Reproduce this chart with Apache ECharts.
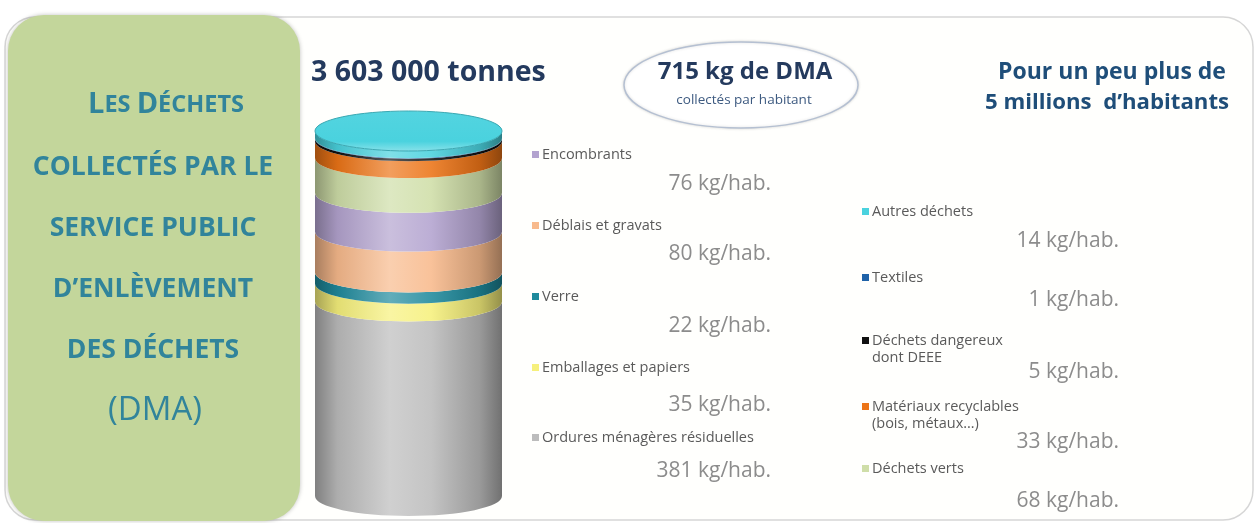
<!DOCTYPE html>
<html><head><meta charset="utf-8">
<script src="https://cdn.jsdelivr.net/npm/echarts@6/dist/echarts.min.js"></script>
<style>html,body{margin:0;padding:0;background:#fff}#c{width:1258px;height:523px}</style>
</head><body><div id="c"></div>
<script>
// ---------- DATA ----------
const categories = [
  'Ordures ménagères résiduelles',
  'Emballages et papiers',
  'Verre',
  'Déblais et gravats',
  'Encombrants',
  'Déchets verts',
  'Matériaux recyclables\n(bois, métaux…)',
  'Déchets dangereux\ndont DEEE',
  'Textiles',
  'Autres déchets'
];
const values = [381, 35, 22, 80, 76, 68, 33, 5, 1, 14];
const unit = ' kg/hab.';
const colors = ['#bcbcbc', '#f6f07c', '#1f8a9c', '#f8ba8c', '#b3a3cf', '#cfdea8', '#ec7417', '#111111', '#1f62a8', '#4ad2de'];
const legendLeftOrder = [4, 3, 2, 1, 0];
const legendRightOrder = [9, 8, 7, 6, 5];
const panelLines = ['COLLECTÉS PAR LE', 'SERVICE PUBLIC', 'D’ENLÈVEMENT', 'DES DÉCHETS'];
const headTotal = '3 603 000 tonnes';
const headPerHab = '715 kg de DMA';
const headPerHabSub = 'collectés par habitant';
const headPop = ['Pour un peu plus de', '5 millions  d’habitants'];

// ---------- LAYOUT / STYLE ----------
const FONT = '"Open Sans", Lato, sans-serif';
const RY = 20;
const leftLabelY = [155, 226, 297, 368, 438];
const leftValueY = [184, 254, 326, 405, 471];
const rightLabelY = [212, 278, 341, 407, 469];
const rightValueY = [241, 300, 372, 442, 501];

function mix(hex, t) {
  const n = parseInt(hex.slice(1), 16);
  let r = n >> 16, g = (n >> 8) & 255, b = n & 255;
  if (t >= 0) { r += (255 - r) * t; g += (255 - g) * t; b += (255 - b) * t; }
  else { r *= 1 + t; g *= 1 + t; b *= 1 + t; }
  return 'rgb(' + Math.round(r) + ',' + Math.round(g) + ',' + Math.round(b) + ')';
}
function sideGrad(c) {
  return new echarts.graphic.LinearGradient(0, 0, 1, 0, [
    { offset: 0, color: mix(c, -0.32) },
    { offset: 0.12, color: mix(c, -0.08) },
    { offset: 0.4, color: mix(c, 0.3) },
    { offset: 0.62, color: mix(c, 0.12) },
    { offset: 0.88, color: mix(c, -0.18) },
    { offset: 1, color: mix(c, -0.4) }
  ]);
}

// stacked ranges
const segData = [];
let acc = 0;
values.forEach((v, i) => { segData.push([0, acc, acc + v, i]); acc += v; });
const total = acc;

// legend graphics
const legendEls = [];
function addLegend(order, sqX, valRight, labY, valY) {
  order.forEach((idx, k) => {
    const multi = categories[idx].indexOf('\n') >= 0;
    legendEls.push({ type: 'rect', shape: { x: sqX, y: labY[k] - 4, width: 7, height: 7 }, style: { fill: colors[idx] } });
    legendEls.push({ type: 'text', x: sqX + 10, y: labY[k] + (multi ? 8 : 0), style: { text: categories[idx], fontSize: 14.5, fontFamily: FONT, fill: '#5a5a5a', align: 'left', verticalAlign: 'middle', lineHeight: 17 } });
    legendEls.push({ type: 'text', x: valRight, y: valY[k], style: { text: values[idx] + unit, fontSize: 21, fontFamily: FONT, fill: '#8c8c8c', align: 'right', verticalAlign: 'middle' } });
  });
}
addLegend(legendLeftOrder, 532, 771, leftLabelY, leftValueY);
addLegend(legendRightOrder, 862, 1119, rightLabelY, rightValueY);

const TEAL = '#31849b';
const panelEls = [
  { type: 'rect', shape: { x: 8, y: 15, width: 292, height: 506, r: 36 }, style: { fill: '#c3d69b', shadowBlur: 4, shadowColor: 'rgba(0,0,0,0.25)' } },
  { type: 'text', x: 166, y: 105, style: { text: '{b|L}{s|ES }{b|D}{s|ÉCHETS}', align: 'center', verticalAlign: 'middle', fill: TEAL,
      rich: { b: { fontSize: 29, fontWeight: 'bold', fontFamily: FONT, fill: TEAL }, s: { fontSize: 23.5, fontWeight: 'bold', fontFamily: FONT, fill: TEAL } } } }
];
panelLines.forEach((t, i) => {
  panelEls.push({ type: 'text', x: 153, y: 167 + i * 61, style: { text: t, fontSize: 26.5, fontWeight: 'bold', fontFamily: FONT, fill: TEAL, align: 'center', verticalAlign: 'middle' } });
});
panelEls.push({ type: 'text', x: 155, y: 411, style: { text: '(DMA)', fontSize: 33, fontFamily: FONT, fill: TEAL, align: 'center', verticalAlign: 'middle' } });

const headEls = [
  { type: 'text', x: 311, y: 73, style: { text: headTotal, fontSize: 28.5, fontWeight: 'bold', fontFamily: FONT, fill: '#243a5e', align: 'left', verticalAlign: 'middle' } },
  { type: 'ellipse', shape: { cx: 741, cy: 85, rx: 117, ry: 43 }, style: { fill: '#ffffff', stroke: '#b5c0d2', lineWidth: 1.5, shadowBlur: 3, shadowColor: 'rgba(0,0,0,0.15)' } },
  { type: 'text', x: 745, y: 72, style: { text: headPerHab, fontSize: 24, fontWeight: 'bold', fontFamily: FONT, fill: '#243a5e', align: 'center', verticalAlign: 'middle' } },
  { type: 'text', x: 744, y: 100, style: { text: headPerHabSub, fontSize: 13.5, fontFamily: FONT, fill: '#3d5a80', align: 'center', verticalAlign: 'middle' } },
  { type: 'text', x: 1112, y: 72, style: { text: headPop[0], fontSize: 23, fontWeight: 'bold', fontFamily: FONT, fill: '#1f4e79', align: 'center', verticalAlign: 'middle' } },
  { type: 'text', x: 1107, y: 103, style: { text: headPop[1], fontSize: 22.2, fontWeight: 'bold', fontFamily: FONT, fill: '#1f4e79', align: 'center', verticalAlign: 'middle' } }
];

const chart = echarts.init(document.getElementById('c'), null, { renderer: 'canvas' });
chart.setOption({
  backgroundColor: '#ffffff',
  animation: false,
  grid: { left: 315, right: 756, top: 131, bottom: 27 },
  xAxis: { type: 'category', data: ['DMA'], show: false },
  yAxis: { type: 'value', min: 0, max: total, show: false },
  graphic: [
    { type: 'rect', z: -10, shape: { x: 5, y: 17, width: 1248, height: 503, r: 30 }, style: { fill: '#fffffd', stroke: '#d6d6d6', lineWidth: 1.5 } },
    { type: 'group', children: panelEls },
    { type: 'group', children: headEls },
    { type: 'group', children: legendEls }
  ],
  series: [{
    type: 'custom',
    data: segData,
    renderItem: function (params, api) {
      const start = api.value(1), end = api.value(2), idx = api.value(3);
      const pb = api.coord([0, start]), pt = api.coord([0, end]);
      const rx = api.size([1, 0])[0] / 2;
      const cx = pb[0], yb = pb[1], yt = pt[1];
      const l = cx - rx, r = cx + rx;
      const c = colors[idx];
      const d = 'M' + l + ' ' + yb + ' A' + rx + ' ' + RY + ' 0 0 0 ' + r + ' ' + yb +
        ' L' + r + ' ' + yt + ' A' + rx + ' ' + RY + ' 0 0 1 ' + l + ' ' + yt + ' Z';
      const children = [{ type: 'path', shape: { pathData: d }, style: { fill: sideGrad(c) } }];
      if (idx === values.length - 1) {
        const cap = 'M' + l + ' ' + yt + ' A' + rx + ' ' + RY + ' 0 1 0 ' + r + ' ' + yt +
          ' A' + rx + ' ' + RY + ' 0 1 0 ' + l + ' ' + yt + ' Z';
        children.push({ type: 'path', shape: { pathData: cap }, style: {
          fill: new echarts.graphic.LinearGradient(0, 0, 0, 1, [
            { offset: 0, color: mix(c, 0.05) }, { offset: 0.75, color: c }, { offset: 1, color: mix(c, 0.35) }
          ]), stroke: mix(c, -0.2), lineWidth: 1 } });
      }
      return { type: 'group', children: children };
    }
  }]
});
</script>
</body></html>
